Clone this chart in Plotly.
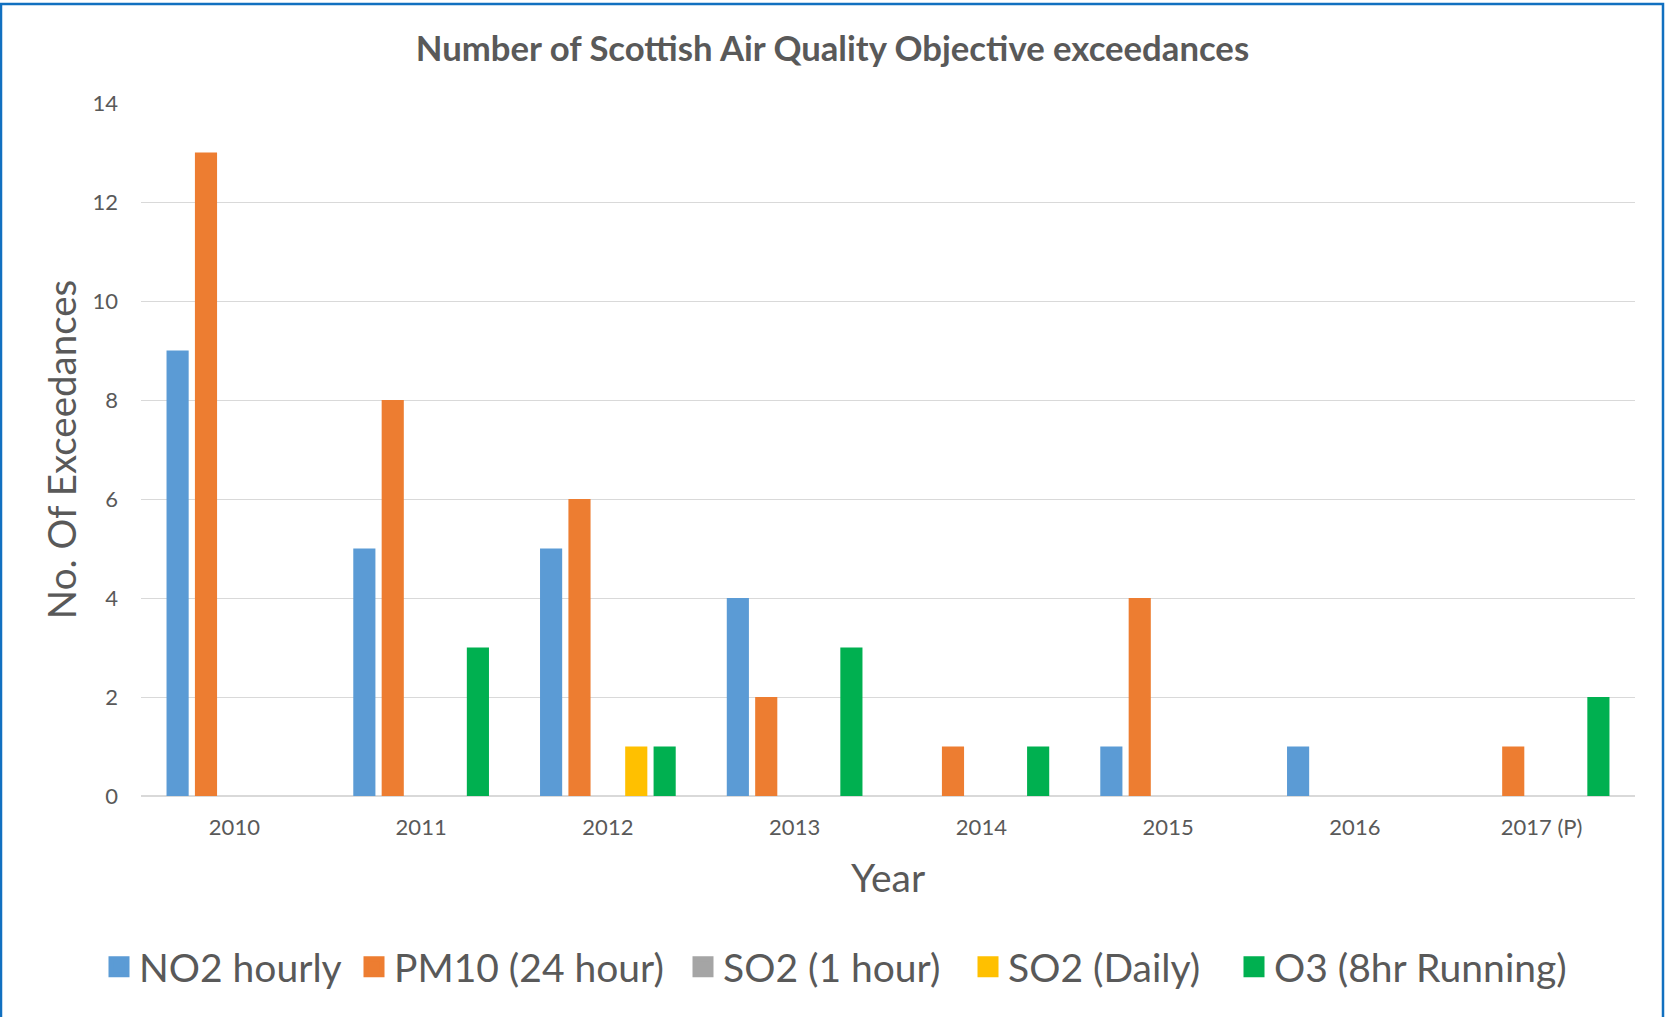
import plotly.graph_objects as go

years = ["2010", "2011", "2012", "2013", "2014", "2015", "2016", "2017 (P)"]
no2_hourly = [9, 5, 5, 4, 0, 1, 1, 0]
pm10_24h = [13, 8, 6, 2, 1, 4, 0, 1]
so2_1h = [0, 0, 0, 0, 0, 0, 0, 0]
so2_daily = [0, 0, 1, 0, 0, 0, 0, 0]
o3_8hr = [0, 3, 1, 3, 1, 0, 0, 2]

series_names = ["NO2 hourly", "PM10 (24 hour)", "SO2 (1 hour)", "SO2 (Daily)", "O3 (8hr Running)"]
series_values = [no2_hourly, pm10_24h, so2_1h, so2_daily, o3_8hr]
colors = ["#5B9BD5", "#ED7D31", "#A5A5A5", "#FFC000", "#00B050"]

W, H = 1665, 1017
ML, MR, MT, MB = 141, 30, 103, 221
FONT = "Lato"
TXT = "#595959"

# left edges (px) of each legend entry box
legend_left_px = [99, 354, 683, 968, 1234]
legend_ids = ["legend", "legend2", "legend3", "legend4", "legend5"]

fig = go.Figure()
for name, vals, col in zip(series_names, series_values, colors):
    fig.add_trace(go.Bar(x=years, y=vals, name=name, marker=dict(color=col, line=dict(width=0)),
                         showlegend=False, legendgroup=name))
for name, col, lid in zip(series_names, colors, legend_ids):
    fig.add_trace(go.Scatter(x=[None], y=[None], mode="markers", name=name, legendgroup=name,
                             legend=lid,
                             marker=dict(symbol="square", size=16, color=col,
                                         line=dict(color=col, width=5))))

pw = W - ML - MR
ph = H - MT - MB
fig.add_shape(type="rect", xref="paper", yref="paper",
              x0=(1 - ML) / pw, x1=(W - 2 - ML) / pw,
              y0=-(MB + 20) / ph, y1=1 + (MT - 4) / ph,
              line=dict(color="#1170C0", width=2.5), fillcolor="rgba(0,0,0,0)", layer="above")

legend_layouts = {}
for lid, lx in zip(legend_ids, legend_left_px):
    legend_layouts[lid] = dict(orientation="h", x=lx / W, xref="container", xanchor="left",
                               y=1 - 967 / H, yref="container", yanchor="middle",
                               font=dict(size=39, color=TXT), itemsizing="trace",
                               bgcolor="rgba(0,0,0,0)")

fig.update_layout(
    width=W, height=H,
    margin=dict(l=ML, r=MR, t=MT, b=MB),
    paper_bgcolor="white", plot_bgcolor="white",
    font=dict(family=FONT, color=TXT),
    barmode="group", bargap=0.24, bargroupgap=0.22,
    title=dict(text="<b>Number of Scottish Air Quality Objective exceedances</b>",
               font=dict(size=34.7, color=TXT, family=FONT),
               x=0.5, xref="container", xanchor="center",
               y=1 - 49 / H, yref="container", yanchor="middle"),
    xaxis=dict(type="category", showgrid=False, showline=False, zeroline=False,
               tickfont=dict(size=22, color=TXT), ticks="", ticklabelstandoff=16,
               title=dict(text="Year", font=dict(size=39, color=TXT), standoff=25)),
    yaxis=dict(range=[0, 14], dtick=2, tick0=0, showgrid=True, gridcolor="#D9D9D9", gridwidth=1.3,
               zeroline=True, zerolinecolor="#D9D9D9", zerolinewidth=2,
               showline=False, tickfont=dict(size=22, color=TXT), ticks="", ticklabelstandoff=22,
               title=dict(text="No. Of Exceedances", font=dict(size=38.5, color=TXT), standoff=3)),
    **legend_layouts,
)

fig.write_html("out.html", config={"displayModeBar": False},
               post_script="document.body.style.margin='0';")
